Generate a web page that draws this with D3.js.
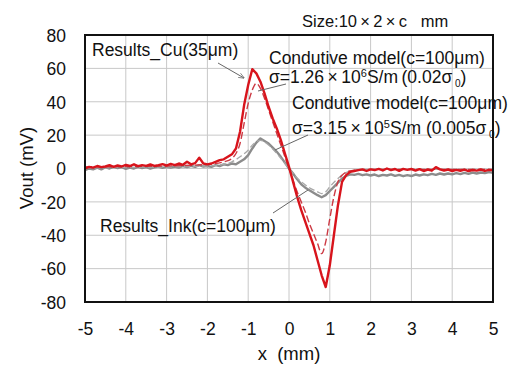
<!DOCTYPE html>
<html><head><meta charset="utf-8">
<script src="https://cdn.jsdelivr.net/npm/d3@7/dist/d3.min.js"></script>
<style>
body{margin:0;background:#fff;}
text{font-family:Arial,"Liberation Sans",sans-serif;fill:#111;}
</style></head>
<body><svg id="c" width="518" height="367"></svg>
<script>
// ---- data ----
const xTicks = [-5,-4,-3,-2,-1,0,1,2,3,4,5];
const yTicks = [-80,-60,-40,-20,0,20,40,60,80];
// measured sampling positions (mm), step 0.1
const xMeasured = d3.range(0,101).map(i => +(-5 + i*0.1).toFixed(1));
const cuMeasured = [
 0,1,0.5,1.5,0.8,1.2,2,1,1.8,1.2,
 2.2,1.5,2.5,1.4,2,1.6,2.4,1.5,2,2.6,
 1.8,2.8,2,3,2.2,4,2.5,3.2,6.5,3,
 2.5,3,4,5,5.5,7,8.5,12,22,38,
 50,59.5,57,52,45,37,30,24,17,9,
 1,-8,-17,-25,-32,-39,-46,-55,-64,-71,
 -58,-40,-22,-8,-4,-2,-1.5,-1,-0.5,-1.5,
 -0.5,-1,-0.2,-1.2,0,-1,-0.3,-1.4,-0.2,-0.8,
 -0.3,-1.2,-0.4,-1.5,-0.6,-1.3,0.8,-0.5,-1.2,-0.6,
 -1.5,-0.8,-1.4,-0.7,-1.6,-0.9,-1.3,-0.6,-1.4,-0.8,-1.1
];
const inkMeasured = [
 -1,0,-0.5,0.5,-0.5,0.8,0,1,0.2,0.8,
 -0.2,0.6,0,1,0.3,0.8,0,0.7,1.2,0.4,
 1,0.5,1.2,0.6,1.5,0.8,1.6,1,2,1.2,
 1.5,1,2,1.4,2.5,2,3,2.5,4,5.5,
 8,12,15.5,18,16.5,15,12.5,10,7,3.5,
 0,-3,-6.5,-9.5,-11.5,-13,-14.5,-16,-17.2,-16,
 -13.5,-11,-8.5,-6,-4.5,-3.5,-3.8,-3.2,-4,-3.5,
 -4.2,-3.6,-4.5,-3.8,-4.2,-3.5,-4.4,-3.8,-4.6,-4,
 -4.5,-3.6,-4.2,-3.5,-4,-3.2,-3.8,-3,-3.6,-3,
 -3.5,-2.8,-3.4,-2.6,-3.2,-2.5,-3,-2.4,-2.8,-2.2,-2.6
];
// model curves
const xModelCu = [-5,-3,-2,-1.6,-1.4,-1.3,-1.2,-1.1,-1.0,-0.9,-0.8,-0.7,-0.6,-0.5,-0.4,-0.3,-0.2,-0.1,0,0.1,0.2,0.3,0.4,0.5,0.6,0.7,0.8,0.9,1.0,1.1,1.2,1.3,1.5,2,5];
const cuModel  = [1,1.5,2.5,4,6,9,15,27,39,47,51,48,42,35,28,21,14,7,0,-7,-14,-20,-26,-33,-39,-45,-51,-44,-30,-17,-8,-4,-1.5,-0.5,-0.5];
const xModelInk = [-5,-3,-2,-1.6,-1.4,-1.2,-1.0,-0.9,-0.8,-0.7,-0.6,-0.5,-0.3,-0.1,0,0.1,0.3,0.5,0.7,0.8,0.9,1.0,1.2,1.4,1.6,2,5];
const inkModel  = [0.5,1,1.5,2.5,4,7,11,14,16,16.8,16,14,9,3,0,-3,-8,-11.5,-14,-15,-14,-11,-6,-2.5,-1,-0.5,-0.5];

// ---- chart ----
const svg = d3.select('#c');
const L=85, R=493, T=35, B=302;
const x = d3.scaleLinear().domain([-5,5]).range([L,R]);
const y = d3.scaleLinear().domain([-80,80]).range([B,T]);

// grid
const g = svg.append('g');
g.selectAll('.vx').data(xTicks).enter().append('line')
 .attr('x1',d=>x(d)).attr('x2',d=>x(d)).attr('y1',T).attr('y2',B)
 .attr('stroke','#c8c8c8').attr('stroke-width',1);
g.selectAll('.hy').data(yTicks).enter().append('line')
 .attr('y1',d=>y(d)).attr('y2',d=>y(d)).attr('x1',L).attr('x2',R)
 .attr('stroke','#c8c8c8').attr('stroke-width',1);

// axes labels via d3 axes
const fmt = d => String(d);
const xAxis = d3.axisBottom(x).tickValues(xTicks).tickSize(0).tickPadding(0).tickFormat(fmt);
const yAxis = d3.axisLeft(y).tickValues(yTicks).tickSize(0).tickPadding(0).tickFormat(fmt);
const gx = svg.append('g').attr('transform',`translate(0,${B})`).call(xAxis);
gx.select('.domain').remove();
gx.selectAll('text').attr('font-size',17.5).attr('dy',null).attr('y',33).attr('font-family','Arial, "Liberation Sans", sans-serif').attr('fill','#111');
const gy = svg.append('g').attr('transform',`translate(${L-19},0)`).call(yAxis);
gy.select('.domain').remove();
gy.selectAll('text').attr('font-size',17.5).attr('dy','0.36em').attr('x',0).attr('font-family','Arial, "Liberation Sans", sans-serif').attr('fill','#111');

// lines
const line = d3.line().x(d=>x(d[0])).y(d=>y(d[1]));
const pairs = (xs,ys)=>xs.map((v,i)=>[v,ys[i]]);
svg.append('path').attr('d',line(pairs(xMeasured,inkMeasured))).attr('fill','none')
 .attr('stroke','#8c8c8c').attr('stroke-width',2.4).attr('stroke-linejoin','round');
svg.append('path').attr('d',line.curve(d3.curveMonotoneX)(pairs(xModelInk,inkModel))).attr('fill','none')
 .attr('stroke','#a8a8a8').attr('stroke-width',1.3).attr('stroke-dasharray','6,3');
svg.append('path').attr('d',line.curve(d3.curveMonotoneX)(pairs(xModelCu,cuModel))).attr('fill','none')
 .attr('stroke','#cc3a44').attr('stroke-width',1.4).attr('stroke-dasharray','7,3');
svg.append('path').attr('d',line.curve(d3.curveLinear)(pairs(xMeasured,cuMeasured))).attr('fill','none')
 .attr('stroke','#d8141c').attr('stroke-width',2.4).attr('stroke-linejoin','round');

// frame
svg.append('rect').attr('x',L).attr('y',T).attr('width',R-L).attr('height',B-T)
 .attr('fill','none').attr('stroke','#111').attr('stroke-width',2);

// titles
svg.append('text').attr('x',289).attr('y',360).attr('text-anchor','middle').attr('font-size',18.5).text('x\u00a0\u00a0(mm)');
svg.append('text').attr('transform','translate(33,168) rotate(-90)').attr('text-anchor','middle').attr('font-size',18.5).text('Vout (mV)');
svg.append('text').attr('x',302).attr('y',27).attr('font-size',16.5).text('Size:10\u2009\u00d7\u20092\u2009\u00d7\u2009c\u00a0\u00a0\u00a0mm');

// annotations
const fs = 17.5;
svg.append('text').attr('x',92).attr('y',56).attr('font-size',fs).text('Results_Cu(35\u03bcm)');
svg.append('text').attr('x',269).attr('y',64).attr('font-size',fs).text('Condutive model(c=100\u03bcm)');
const s1 = svg.append('text').attr('x',269).attr('y',83).attr('font-size',fs);
s1.append('tspan').text('\u03c3=1.26\u202f\u00d7\u202f10');
s1.append('tspan').attr('font-size',11).attr('dy',-6).text('6');
s1.append('tspan').attr('dy',6).text('S/m\u2009(0.02\u03c3');
s1.append('tspan').attr('font-size',10).attr('dy',4).text('\u00a00');
s1.append('tspan').attr('dy',-4).text(')');
svg.append('text').attr('x',292).attr('y',109).attr('font-size',fs).text('Condutive model(c=100\u03bcm)');
const s2 = svg.append('text').attr('x',292).attr('y',134).attr('font-size',fs);
s2.append('tspan').text('\u03c3=3.15\u202f\u00d7\u202f10');
s2.append('tspan').attr('font-size',11).attr('dy',-6).text('5');
s2.append('tspan').attr('dy',6).text('S/m (0.005\u03c3');
s2.append('tspan').attr('font-size',10).attr('dy',4).text('\u00a00');
s2.append('tspan').attr('dy',-4).text(')');
svg.append('text').attr('x',100).attr('y',232).attr('font-size',fs).text('Results_Ink(c=100\u03bcm)');

// pointer lines
svg.append('defs').append('marker').attr('id','ah').attr('viewBox','0 0 10 10')
 .attr('refX',9).attr('refY',5).attr('markerWidth',6).attr('markerHeight',6).attr('orient','auto')
 .append('path').attr('d','M0,1 L10,5 L0,9').attr('fill','none').attr('stroke','#666').attr('stroke-width',1.2);
const ptr = [[218,63,244,78,true],[286,84,258,91,false],[308,135,275,150,false],[273,213,308,190,false]];
svg.selectAll('.ptr').data(ptr).enter().append('line')
 .attr('x1',d=>d[0]).attr('y1',d=>d[1]).attr('x2',d=>d[2]).attr('y2',d=>d[3])
 .attr('stroke','#666').attr('stroke-width',1)
 .attr('marker-end',d=>d[4]?'url(#ah)':null);
</script></body></html>
